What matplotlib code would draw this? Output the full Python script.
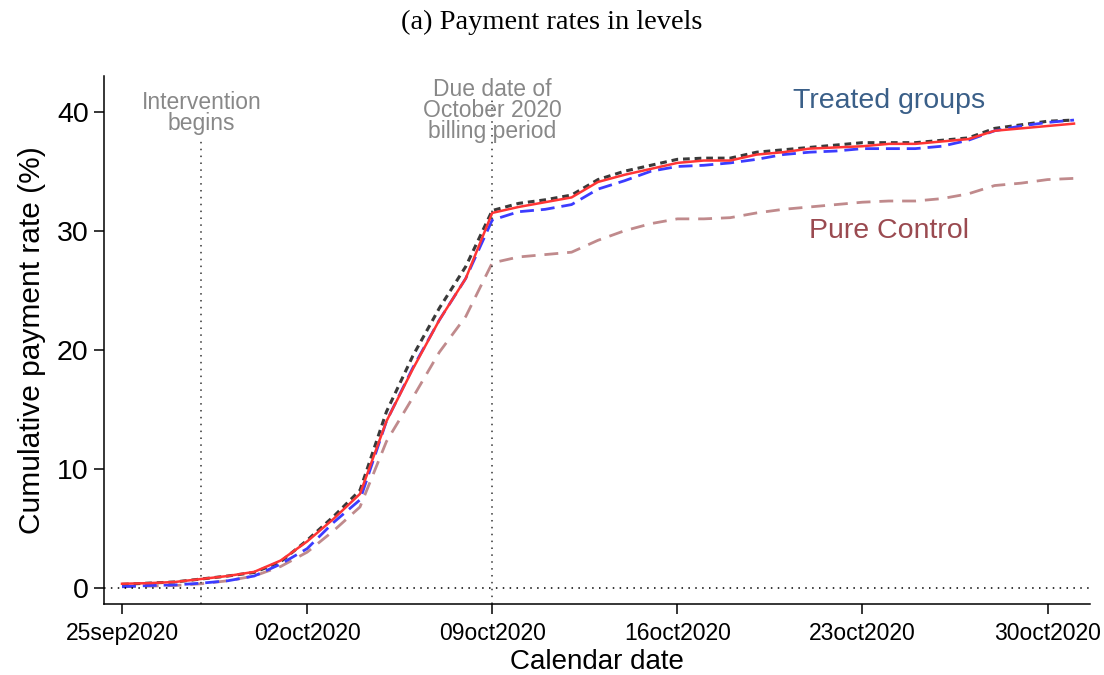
import numpy as np
import pandas as pd
import matplotlib
matplotlib.use("Agg")
import matplotlib.pyplot as plt

# calendar days, 25sep2020 .. 31oct2020
dates = pd.date_range("2020-09-25", "2020-10-31", freq="D")

treat_a = [0.3, 0.4, 0.5, 0.75, 1.0, 1.3, 2.2, 4.0, 6.0, 8.2,
           14.8, 19.5, 23.5, 27.0, 31.7, 32.3, 32.6, 33.0, 34.3, 35.0,
           35.5, 36.0, 36.1, 36.1, 36.6, 36.8, 37.0, 37.2, 37.4, 37.4,
           37.4, 37.6, 37.8, 38.6, 38.9, 39.2, 39.3]
treat_b = [0.1, 0.2, 0.25, 0.4, 0.6, 1.0, 2.0, 3.3, 5.5, 7.4,
           14.0, 18.5, 22.5, 26.0, 30.9, 31.6, 31.8, 32.2, 33.5, 34.2,
           35.0, 35.4, 35.5, 35.7, 36.0, 36.4, 36.6, 36.7, 36.9, 36.9,
           36.9, 37.1, 37.6, 38.4, 38.8, 39.1, 39.3]
treat_c = [0.35, 0.4, 0.5, 0.75, 1.0, 1.35, 2.3, 3.9, 5.8, 7.9,
           14.0, 18.4, 22.5, 26.0, 31.5, 32.0, 32.4, 32.8, 34.1, 34.7,
           35.2, 35.7, 35.9, 35.9, 36.4, 36.6, 36.9, 37.0, 37.1, 37.3,
           37.3, 37.5, 37.7, 38.4, 38.6, 38.8, 39.0]
pure_control = [0.1, 0.15, 0.2, 0.35, 0.6, 1.0, 1.8, 3.0, 4.8, 6.8,
                12.3, 16.0, 19.8, 22.8, 27.3, 27.8, 28.0, 28.2, 29.2, 30.0,
                30.6, 31.0, 31.0, 31.1, 31.5, 31.8, 32.0, 32.2, 32.4, 32.5,
                32.5, 32.7, 33.1, 33.8, 34.0, 34.3, 34.4]

tick_dates = pd.to_datetime(["2020-09-25", "2020-10-02", "2020-10-09",
                             "2020-10-16", "2020-10-23", "2020-10-30"])
tick_labels = ["25sep2020", "02oct2020", "09oct2020",
               "16oct2020", "23oct2020", "30oct2020"]
y_ticks = [0, 10, 20, 30, 40]

intervention_date = pd.Timestamp("2020-09-28")
due_date = pd.Timestamp("2020-10-09")

plt.rcParams["font.family"] = ["Liberation Sans", "DejaVu Sans"]

fig = plt.figure(figsize=(11.04, 6.75), dpi=100)
ax = fig.add_axes([0.0942, 0.1052, 0.8931, 0.7822])

ax.plot(dates, pure_control, color="#c08a8c", lw=2.0, dashes=(5, 3.2))
ax.plot(dates, treat_a, color="#3a3a3a", lw=2.2, dashes=(2.2, 1.6))
ax.plot(dates, treat_b, color="#3c3cff", lw=2.0, dashes=(5, 2.5))
ax.plot(dates, treat_c, color="#ff3535", lw=1.8)

ax.axhline(0, color="black", lw=1.1, ls=(0, (1, 3.5)))
ax.vlines(intervention_date, -1.35, 37.9, color="#333333", lw=1.1,
          ls=(0, (1, 3.5)))
ax.vlines(due_date, -1.35, 41.3, color="#333333", lw=1.1,
          ls=(0, (1, 3.5)))

ax.text(intervention_date, 39.9, "Intervention\nbegins", ha="center",
        va="center", color="#888888", fontsize=16.5, linespacing=0.9)
ax.text(due_date, 40.1, "Due date of\nOctober 2020\nbilling period",
        ha="center", va="center", color="#888888", fontsize=16.5,
        linespacing=0.9)
ax.text(pd.Timestamp("2020-10-24"), 40.9, "Treated groups",
        ha="center", va="center", color="#3a5f88", fontsize=20.5)
ax.text(pd.Timestamp("2020-10-24"), 30.0, "Pure Control",
        ha="center", va="center", color="#9a4a50", fontsize=20.5)

ax.set_xlim(pd.Timestamp("2020-09-24 07:40"), pd.Timestamp("2020-10-31 14:30"))
ax.set_ylim(-1.35, 43.0)

ax.set_xticks(tick_dates)
ax.set_xticklabels(tick_labels, fontsize=16.5)
ax.set_yticks(y_ticks)
ax.set_yticklabels([str(v) for v in y_ticks], fontsize=20.5)
ax.tick_params(axis="both", direction="out", length=7, width=1.1,
               color="black")
ax.tick_params(axis="x", pad=6)
ax.tick_params(axis="y", pad=4)

for side in ["top", "right"]:
    ax.spines[side].set_visible(False)
for side in ["left", "bottom"]:
    ax.spines[side].set_linewidth(1.1)

ax.set_ylabel("Cumulative payment rate (%)", fontsize=21.5, labelpad=8)
ax.set_xlabel("Calendar date", fontsize=20, labelpad=3)

fig.suptitle("(a) Payment rates in levels", fontsize=20.5,
             family=["Liberation Serif", "DejaVu Serif"], y=0.985)

fig.savefig("out.png", dpi=100)
